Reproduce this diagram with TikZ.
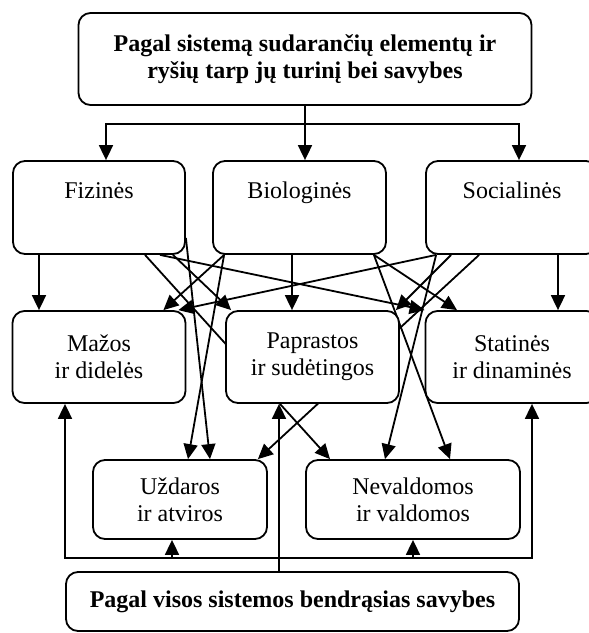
\documentclass[tikz,border=0pt]{standalone}
\usepackage{fontspec}
\setmainfont{Liberation Serif}
\usetikzlibrary{arrows.meta,backgrounds}

\begin{document}
\begin{tikzpicture}[x=1pt,y=-1pt,line width=1.8pt,
    every node/.style={font=\fontsize{24}{27}\selectfont},
    box/.style={draw,rounded corners=12pt,fill=white,inner sep=0pt},
    head/.style={box,align=center,font=\bfseries\fontsize{24}{27}\selectfont,minimum width=453pt},
    kind/.style={box,minimum width=172pt,text height=37pt,text depth=56pt},
    group/.style={box,align=center,minimum width=173pt,minimum height=92pt},
    arr/.style={-{Triangle[length=15pt,width=14pt]}}]
    \useasboundingbox (0,0) rectangle (589,633);

    \node[head,minimum height=92pt] (top) at (305,59) {Pagal sistemą sudarančių elementų ir\\ryšių tarp jų turinį bei savybes};
    \node[kind] (fiz) at (99,207.5) {Fizinės};
    \node[kind,minimum width=173pt] (bio) at (299.5,207.5) {Biologinės};
    \node[kind] (soc) at (512,207.5) {Socialinės};
    \node[group] (maz) at (99,357) {Mažos\\ir didelės};
    \node[group] (pap) at (312.5,357) {Paprastos\\ir sudėtingos};
    \node[group] (sta) at (512,357) {Statinės\\ir dinaminės};
    \node[group,minimum width=174pt,minimum height=79pt] (uzd) at (180,499.5) {Uždaros\\ir atviros};
    \node[group,minimum width=214pt,minimum height=79pt] (nev) at (413,499.5) {Nevaldomos\\ir valdomos};
    \node[head,minimum height=59pt] (bot) at (292.5,601.5) {Pagal visos sistemos bendrąsias savybes};

    \begin{scope}[on background layer={line width=1.8pt}]
    % top box to the three kinds
    \coordinate (split) at (top.south |- 0,124);
    \draw (top.south) -- (split);
    \draw[arr] (split) -| ([xshift=7pt]fiz.north);
    \draw[arr] (split) -- (split |- bio.north);
    \draw[arr] (split) -| ([xshift=7pt]soc.north);

    % Fizines
    \draw[arr] ([xshift=-60pt]fiz.south) -- ([xshift=-60pt]maz.north);
    \draw[arr] ([xshift=74pt]fiz.south) -- ([xshift=6pt]pap.north west);
    \draw[arr] ([xshift=61pt]fiz.south) -- (sta.north west);
    \draw[arr] ([yshift=17pt]fiz.south east) -- ([xshift=30pt]uzd.north);
    \draw[arr] ([xshift=46pt]fiz.south) -- ([xshift=-83pt]nev.north);
    % Biologines
    \draw[arr] ([xshift=12pt]bio.south west) -- ([xshift=-23pt]maz.north east);
    \draw[arr] ([xshift=-7.5pt]bio.south) -- ([xshift=-7.5pt]bio.south |- pap.north);
    \draw[arr] ([xshift=-13pt]bio.south east) -- ([xshift=-55pt]sta.north);
    \draw[arr] ([xshift=12pt]bio.south west) -- ([xshift=8pt]uzd.north);
    \draw[arr] ([xshift=-13pt]bio.south east) -- ([xshift=37pt]nev.north);
    % Socialines
    \draw[arr] ([xshift=11pt]soc.south west) -- ([xshift=-8pt]maz.north east);
    \draw[arr] ([xshift=26pt]soc.south west) -- ([xshift=-4pt]pap.north east);
    \draw[arr] ([xshift=46pt]soc.south) -- ([xshift=46pt]sta.north);
    \draw[arr] ([xshift=54pt]soc.south west) -- ([xshift=-10pt]uzd.north east);
    \draw[arr] ([xshift=11pt]soc.south west) -- ([xshift=-28pt]nev.north);

    % bottom box up to the groups
    \coordinate (bus) at ([yshift=13pt]bot.north);
    \draw[arr] ([xshift=-13.5pt]bot.north) -- ([xshift=-13.5pt]bot.north |- pap.south);
    \draw[arr] (bus) -| ([xshift=-34pt]maz.south);
    \draw[arr] (bus) -| ([xshift=20pt]sta.south);
    \draw[arr] ([xshift=-8pt]uzd.south |- bus) -- ([xshift=-8pt]uzd.south);
    \draw[arr] (nev.south |- bus) -- (nev.south);
    \end{scope}
\end{tikzpicture}
\end{document}
